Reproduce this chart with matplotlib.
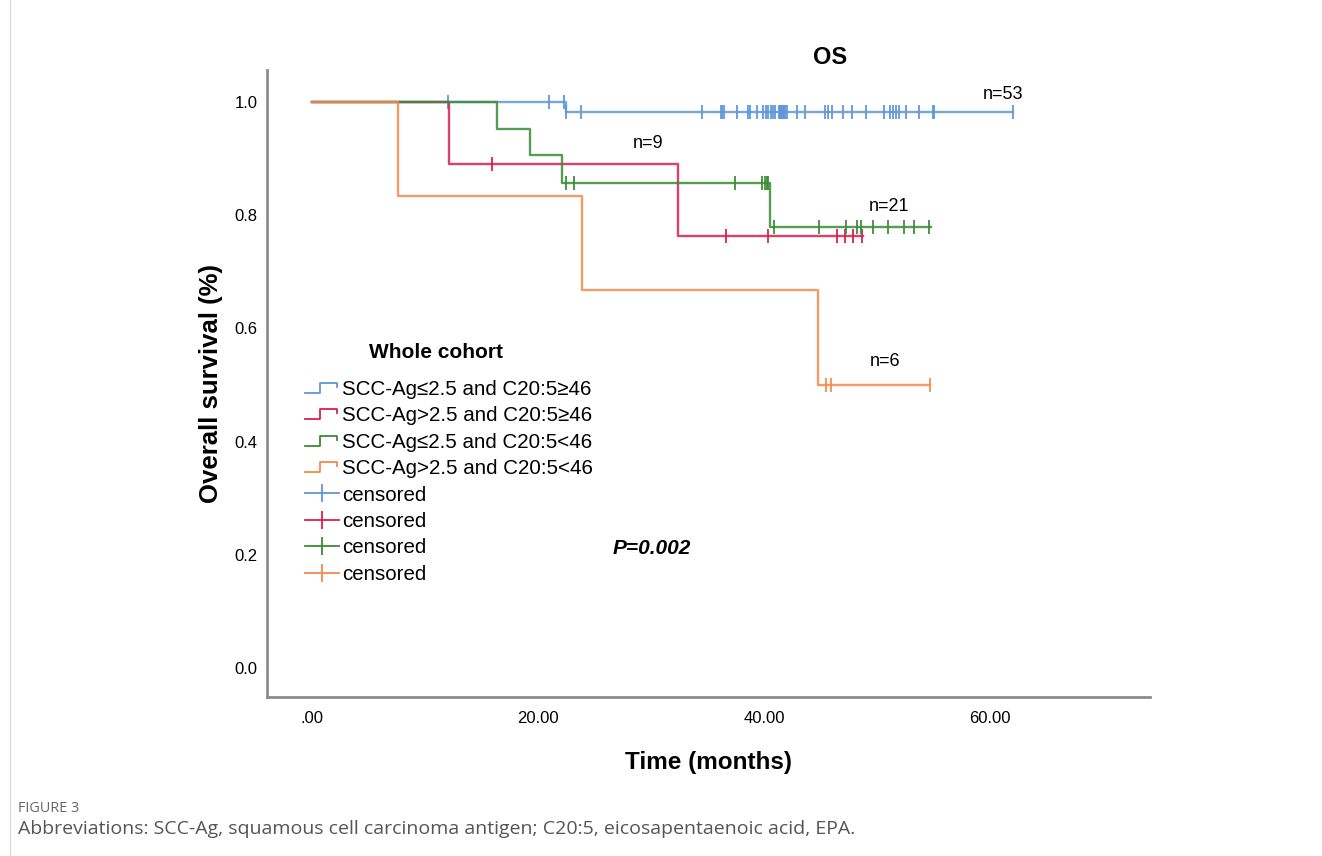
import numpy as np
import matplotlib
matplotlib.use("Agg")
import matplotlib.pyplot as plt
from matplotlib.lines import Line2D
from matplotlib.legend_handler import HandlerBase

plt.rcParams['font.family'] = ['Liberation Sans', 'DejaVu Sans']

# curves: step times, survival level after each step, last follow-up
groups = ["SCC-Ag≤2.5 and C20:5≥46", "SCC-Ag>2.5 and C20:5≥46",
          "SCC-Ag≤2.5 and C20:5<46", "SCC-Ag>2.5 and C20:5<46"]
colors = ["#5f95dc", "#d81f4e", "#3b8a35", "#f58a4c"]

blue_t = [0, 22.45]
blue_s = [1.0, 0.981]
blue_end = 62.1
blue_cens = [12.0, 21.0, 22.3, 22.45, 23.8, 34.5, 36.2, 36.3, 36.5, 37.6, 38.6,
             38.8, 39.4, 39.9, 40.2, 40.4, 40.6, 40.8, 41.0, 41.3, 41.4, 41.5,
             41.6, 41.7, 41.8, 41.9, 42.0, 42.9, 43.6, 45.4, 45.7, 46.0, 47.0,
             47.8, 49.0, 50.6, 51.2, 51.4, 51.7, 52.0, 52.6, 53.7, 55.0, 55.1, 62.1]

red_t = [0, 12.1, 32.4]
red_s = [1.0, 0.889, 0.762]
red_end = 48.8
red_cens = [15.9, 36.6, 40.4, 46.5, 47.2, 47.9, 48.7]

green_t = [0, 16.4, 19.3, 22.15, 40.5]
green_s = [1.0, 0.952, 0.905, 0.857, 0.779]
green_end = 54.8
green_cens = [22.5, 23.2, 37.4, 39.8, 40.1, 40.3, 40.4, 40.9, 44.9, 47.3,
              48.2, 48.6, 49.7, 51.0, 52.4, 53.3, 54.6]

orange_t = [0, 7.64, 23.9, 44.8]
orange_s = [1.0, 0.833, 0.667, 0.5]
orange_end = 54.7
orange_cens = [45.5, 45.9, 54.7]

n_labels = ["n=53", "n=9", "n=21", "n=6"]
n_pos = [(61.2, 1.013), (29.7, 0.926), (51.1, 0.815), (50.7, 0.541)]

xticks = [0, 20, 40, 60]
xticklabels = [".00", "20.00", "40.00", "60.00"]
yticks = [0.0, 0.2, 0.4, 0.6, 0.8, 1.0]


class StepHandler(HandlerBase):
    def create_artists(self, legend, orig_handle, xdescent, ydescent,
                       width, height, fontsize, trans):
        xs = np.array([0, 0.45, 0.45, 0.95, 0.95]) * width - xdescent
        ys = np.array([0.15, 0.15, 0.85, 0.85, 0.55]) * height - ydescent
        ln = Line2D(xs, ys, color=orig_handle.get_color(), lw=1.3)
        ln.set_transform(trans)
        return [ln]


fig = plt.figure(figsize=(13.22, 8.56), dpi=100)
ax = fig.add_axes([0.202, 0.1857, 0.668, 0.732])

series = [(blue_t, blue_s, blue_end, blue_cens),
          (red_t, red_s, red_end, red_cens),
          (green_t, green_s, green_end, green_cens),
          (orange_t, orange_s, orange_end, orange_cens)]

step_lines = []
cens_handles = []
for (t, s, end, cens), c in zip(series, colors):
    x = list(t) + [end]
    y = list(s) + [s[-1]]
    ln, = ax.step(x, y, where='post', color=c, lw=1.7, alpha=0.85)
    step_lines.append(ln)
    idx = np.searchsorted(t, cens, side='right') - 1
    cy = np.array(s)[idx]
    ax.plot(cens, cy, linestyle='none', marker='|', markersize=10,
            markeredgewidth=1.4, color=c, alpha=0.9)
    cens_handles.append(Line2D([], [], color=c, lw=1.3, marker='|',
                               markersize=13, markeredgewidth=1.3))

for lab, (xx, yy) in zip(n_labels, n_pos):
    ax.text(xx, yy, lab, fontsize=13, ha='center', va='center')

ax.text(30.1, 0.212, "P=0.002", fontsize=15, fontweight='bold',
        fontstyle='italic', ha='center', va='center')

ax.set_xlim(-4.0, 74.2)
ax.set_ylim(-0.051, 1.055)
ax.set_xticks(xticks)
ax.set_xticklabels(xticklabels)
ax.set_yticks(yticks)
ax.set_yticklabels(["%.1f" % v for v in yticks])
ax.tick_params(axis='x', length=0, pad=10, labelsize=12)
ax.tick_params(axis='y', length=0, pad=7, labelsize=12)
for sp in ['top', 'right']:
    ax.spines[sp].set_visible(False)
for sp in ['left', 'bottom']:
    ax.spines[sp].set_color('#8c8c8c')
    ax.spines[sp].set_linewidth(2)

ax.set_xlabel("Time (months)", fontsize=17.5, fontweight='bold', labelpad=18)
ax.set_ylabel("Overall survival (%)", fontsize=18.5, fontweight='bold', labelpad=8)
ax.set_title("OS", fontsize=17, fontweight='bold', x=0.638, pad=5)

ax.text(0.191, 0.550, "Whole cohort", transform=ax.transAxes, fontsize=15,
        fontweight='bold', ha='center', va='center')

hmap = {ln: StepHandler() for ln in step_lines}
leg = ax.legend(step_lines + cens_handles, groups + ["censored"] * 4,
                handler_map=hmap, loc='upper left',
                bbox_to_anchor=(0.043, 0.506), frameon=False, borderpad=0,
                borderaxespad=0, fontsize=14.8, handlelength=1.65,
                handletextpad=0.15, labelspacing=0.36)

fig.text(0.0136, 0.056, "FIGURE 3", fontsize=10.4, color='#666666',
         family=['Open Sans', 'DejaVu Sans'], va='center')
fig.text(0.0136, 0.031,
         "Abbreviations: SCC-Ag, squamous cell carcinoma antigen; C20:5, eicosapentaenoic acid, EPA.",
         fontsize=14, color='#555555', family=['Open Sans', 'DejaVu Sans'],
         va='center')
fig.add_artist(Line2D([0.0076, 0.0076], [0, 1], transform=fig.transFigure,
                      color='#d5d5d5', lw=0.8))

fig.savefig("out.png", dpi=100)
